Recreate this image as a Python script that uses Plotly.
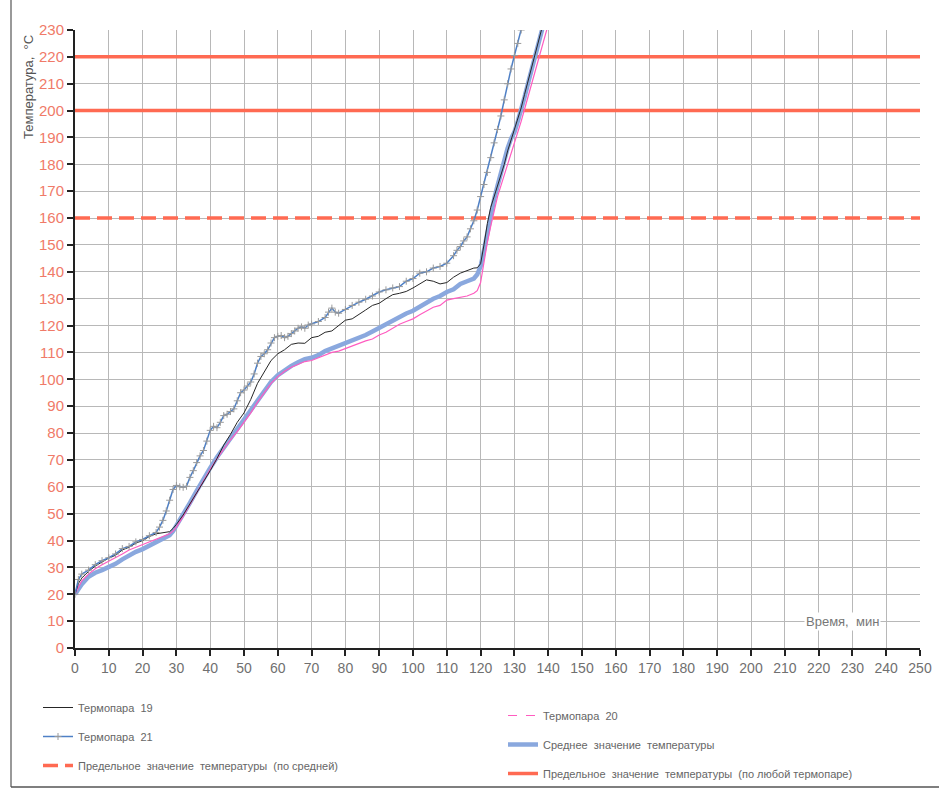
import plotly.graph_objects as go

# ---------------- data ----------------
t19 = [0,1,2,4,6,8,10,12,14,16,18,20,22,24,26,28,29,30,32,34,36,38,40,42,44,46,48,50,52,54,56,58,60,62,64,66,68,70,72,74,76,78,80,82,84,86,88,90,92,94,96,98,100,102,104,106,108,110,112,114,116,118,119,120,121,122,123,124,125,126,127,128,129,130,131,132,133,134,135,136,137,138,139]
v19 = [20,24,26,28.5,30.5,32,33.5,34.5,36.5,37.5,39,40,41.5,42.5,43,43.3,44.5,46,49.5,53.5,58,62,66,70.5,75.5,79.5,84,87.5,92.5,98.5,103,107,109.5,111,113,113.5,113.4,115.5,116,117.5,118,119.9,122,122.5,124.3,125.8,127.5,128.3,130,131.5,132,132.7,134,135.5,137,136.5,135.5,136,138,139.5,140.5,141.4,141.5,143,150,158,164,168,172,176,180,185,189,192.5,196.5,201,206,211,216,220.5,225.5,230,234]

t20 = [0,1,2,4,6,8,10,12,14,16,18,20,22,24,26,28,29,30,32,34,36,38,40,42,44,46,48,50,52,54,56,58,60,62,64,66,68,70,72,74,76,78,80,82,84,86,88,90,92,94,96,98,100,102,104,106,108,110,112,114,116,118,119,120,121,122,123,124,125,126,127,128,129,130,131,132,133,134,135,136,137,138,139,140]
v20 = [20,22.5,25,27.5,29.5,31,32.3,33.5,35,36.5,37.5,38.5,39.5,40.5,41.6,42.5,43.5,45,49,53.5,58,62.5,66.5,70.5,74,77.5,80.5,84,87.5,91.5,95,98.5,101,103,104.5,105.5,106.6,107,108,109,110,110.5,111.5,112.5,113.5,114.3,115,116.5,117.5,119,120.5,121.5,122.5,124,125.5,126.8,127.5,129.5,130,130.5,131,132,133,136,144,151,157,163,168,172,176,180,184,188,191.5,196,200.5,205,209.5,214,218.5,223,227.5,232]

t21 = [0,1,2,4,6,8,10,12,14,16,18,20,22,24,25,26,27,28,29,30,31,32,33,34,35,36,37,38,39,40,41,42,43,44,45,46,47,48,49,50,51,52,53,54,55,56,57,58,59,60,61,62,63,64,65,66,67,68,69,70,72,74,75,76,77,78,80,82,84,86,88,90,92,94,96,98,100,102,104,106,108,110,112,113,114,115,116,117,118,119,120,121,122,123,124,125,126,127,128,129,130,131,132,133]
v21 = [20,25.5,27.5,29,31,32.5,33.6,35,37,37.8,39.5,40.4,41.8,43,45,47.5,51,55,59,60.5,60,59.8,60.2,63.5,66,69,71.5,73.5,77,81,82.5,82,84,86.5,87,88,89,92,95,96,97.5,99,102,106,108.5,109.5,111,113.5,115.5,116,116.3,115.5,116,117,118,119,119.5,119,120.2,120.6,121.5,123,125,126.5,125,124.6,126,127.5,128.7,129.8,131,132.5,133.3,134,134.5,136.5,137.5,139.5,140,141.4,142,143.2,146,148,149.4,151.5,153,156,159,163,168,172.5,177,182.5,188,193,198,204,210,215.5,220.5,225,230,235]

t_avg = [0,1,2,4,6,8,10,12,14,16,18,20,22,24,26,28,29,30,32,34,36,38,40,42,44,46,48,50,52,54,56,58,60,62,64,66,68,70,72,74,76,78,80,82,84,86,88,90,92,94,96,98,100,102,104,106,108,110,112,114,116,118,119,120,121,122,123,124,125,126,127,128,129,130,131,132,133,134,135,136,137,138,139]
v_avg = [20,22,23.7,26.5,28,29,30,31.3,33,34.5,35.8,36.8,38,39.5,40.5,42,43.5,45.5,49.5,54,58.5,63,67,71,74.5,78,81,84.5,88,92,95.5,99,101.5,103.5,105,106.3,107.5,108,109,110.5,111.5,112.5,113.5,114.2,115.3,116.5,117.8,119.2,120.5,121.8,123,124.5,125.5,127,128.5,130,131,132.5,133.5,135.5,136.5,137.5,139,142,148,155,161.5,167,172,177,181.5,186,189.5,192,196,200,205,210,215,220,225,229.5,234]

x_span = [0, 250]
limit_mean = [160]          # limit by mean temperature
limit_any = [220, 200]      # limit by any thermocouple

x_ticks = list(range(0, 251, 10))
y_ticks = list(range(0, 231, 10))

names = ["Термопара  19", "Термопара  20", "Термопара  21",
         "Среднее  значение  температуры",
         "Предельное  значение  температуры  (по средней)",
         "Предельное  значение  температуры  (по любой термопаре)"]

RED = "#ff6a52"
fig = go.Figure()

# limit lines (drawn first, beneath curves)
xs_any, ys_any = [], []
for lv in limit_any:
    xs_any += [x_span[0], x_span[1], None]
    ys_any += [lv, lv, None]
fig.add_trace(go.Scatter(x=xs_any, y=ys_any, mode="lines", name=names[5],
                         line=dict(color=RED, width=3.5), legend="legend2",
                         legendrank=3, legendgroup="g6"))
fig.add_trace(go.Scatter(x=x_span, y=[limit_mean[0]] * 2, mode="lines", name=names[4],
                         line=dict(color=RED, width=3.5, dash="15px,7px"),
                         legend="legend", legendrank=3, legendgroup="g5"))

# curves
fig.add_trace(go.Scatter(x=t_avg, y=v_avg, mode="lines", name=names[3],
                         line=dict(color="#8aa8de", width=4.5), legend="legend2",
                         legendrank=2, legendgroup="g4"))
fig.add_trace(go.Scatter(x=t20, y=v20, mode="lines", name=names[1],
                         line=dict(color="#ff5cc0", width=1.2), showlegend=False))
fig.add_trace(go.Scatter(x=[None], y=[None], mode="lines", name=names[1],
                         line=dict(color="#ff5cc0", width=1.2, dash="dash"),
                         legend="legend2", legendrank=1, legendgroup="g2"))
fig.add_trace(go.Scatter(x=t19, y=v19, mode="lines", name=names[0],
                         line=dict(color="#262626", width=1), legend="legend",
                         legendrank=1, legendgroup="g1"))
fig.add_trace(go.Scatter(x=t21, y=v21, mode="lines+markers", name=names[2],
                         line=dict(color="#4f80c6", width=1.5),
                         marker=dict(symbol="cross-thin", size=5,
                                     line=dict(color="#9a9a9a", width=1)),
                         legend="legend", legendrank=2, legendgroup="g3"))

fnt = "Liberation Sans, Arial, sans-serif"
leg_common = dict(font=dict(family=fnt, size=11, color="#666"),
                  bgcolor="rgba(0,0,0,0)", itemwidth=30, tracegroupgap=10,
                  xanchor="left", yanchor="top", orientation="v",
                  xref="container", yref="container")

fig.update_layout(
    width=939, height=793,
    margin=dict(l=75, r=19, t=30, b=145, autoexpand=False),
    paper_bgcolor="white", plot_bgcolor="white",
    font=dict(family=fnt),
    xaxis=dict(range=[0, 250], tickvals=x_ticks, ticktext=[str(v) for v in x_ticks],
               showgrid=True, gridcolor="#b8b8b8", gridwidth=1,
               showline=True, linecolor="#222", linewidth=2,
               ticks="outside", ticklen=6, tickwidth=1.5, tickcolor="#222",
               tickfont=dict(family=fnt, size=14, color="#707070"),
               zeroline=False, fixedrange=True),
    yaxis=dict(range=[0, 230], tickvals=y_ticks, ticktext=[str(v) for v in y_ticks],
               showgrid=True, gridcolor="#b8b8b8", gridwidth=1,
               showline=True, linecolor="#222", linewidth=2,
               ticks="outside", ticklen=6, tickwidth=1.5, tickcolor="#222",
               tickfont=dict(family=fnt, size=15, color="#f07a68"),
               zeroline=False, fixedrange=True),
    legend=dict(x=38 / 939, y=1 - 693 / 793, **leg_common),
    legend2=dict(x=503 / 939, y=1 - 701 / 793, **leg_common),
    annotations=[
        dict(text="Температура,  °С", xref="paper", yref="paper",
             x=(28 - 75) / 845, y=(648 - 33) / 618, xanchor="center", yanchor="top",
             textangle=-90, showarrow=False,
             font=dict(family=fnt, size=13, color="#555")),
        dict(text="Время,  мин", xref="x", yref="y", x=227, y=10,
             xanchor="center", yanchor="middle", showarrow=False,
             bgcolor="white", font=dict(family=fnt, size=13, color="#777")),
    ],
    shapes=[
        dict(type="line", xref="paper", yref="paper",
             x0=(11 - 75) / 845, x1=(11 - 75) / 845, y0=(648 - 787) / 618, y1=(648 - 0) / 618,
             line=dict(color="#555", width=1.2)),
        dict(type="line", xref="paper", yref="paper",
             x0=(11 - 75) / 845, x1=(939 - 75) / 845, y0=(648 - 787) / 618, y1=(648 - 787) / 618,
             line=dict(color="#555", width=1.5)),
    ],
    showlegend=True,
)

fig.write_html("out.html")
